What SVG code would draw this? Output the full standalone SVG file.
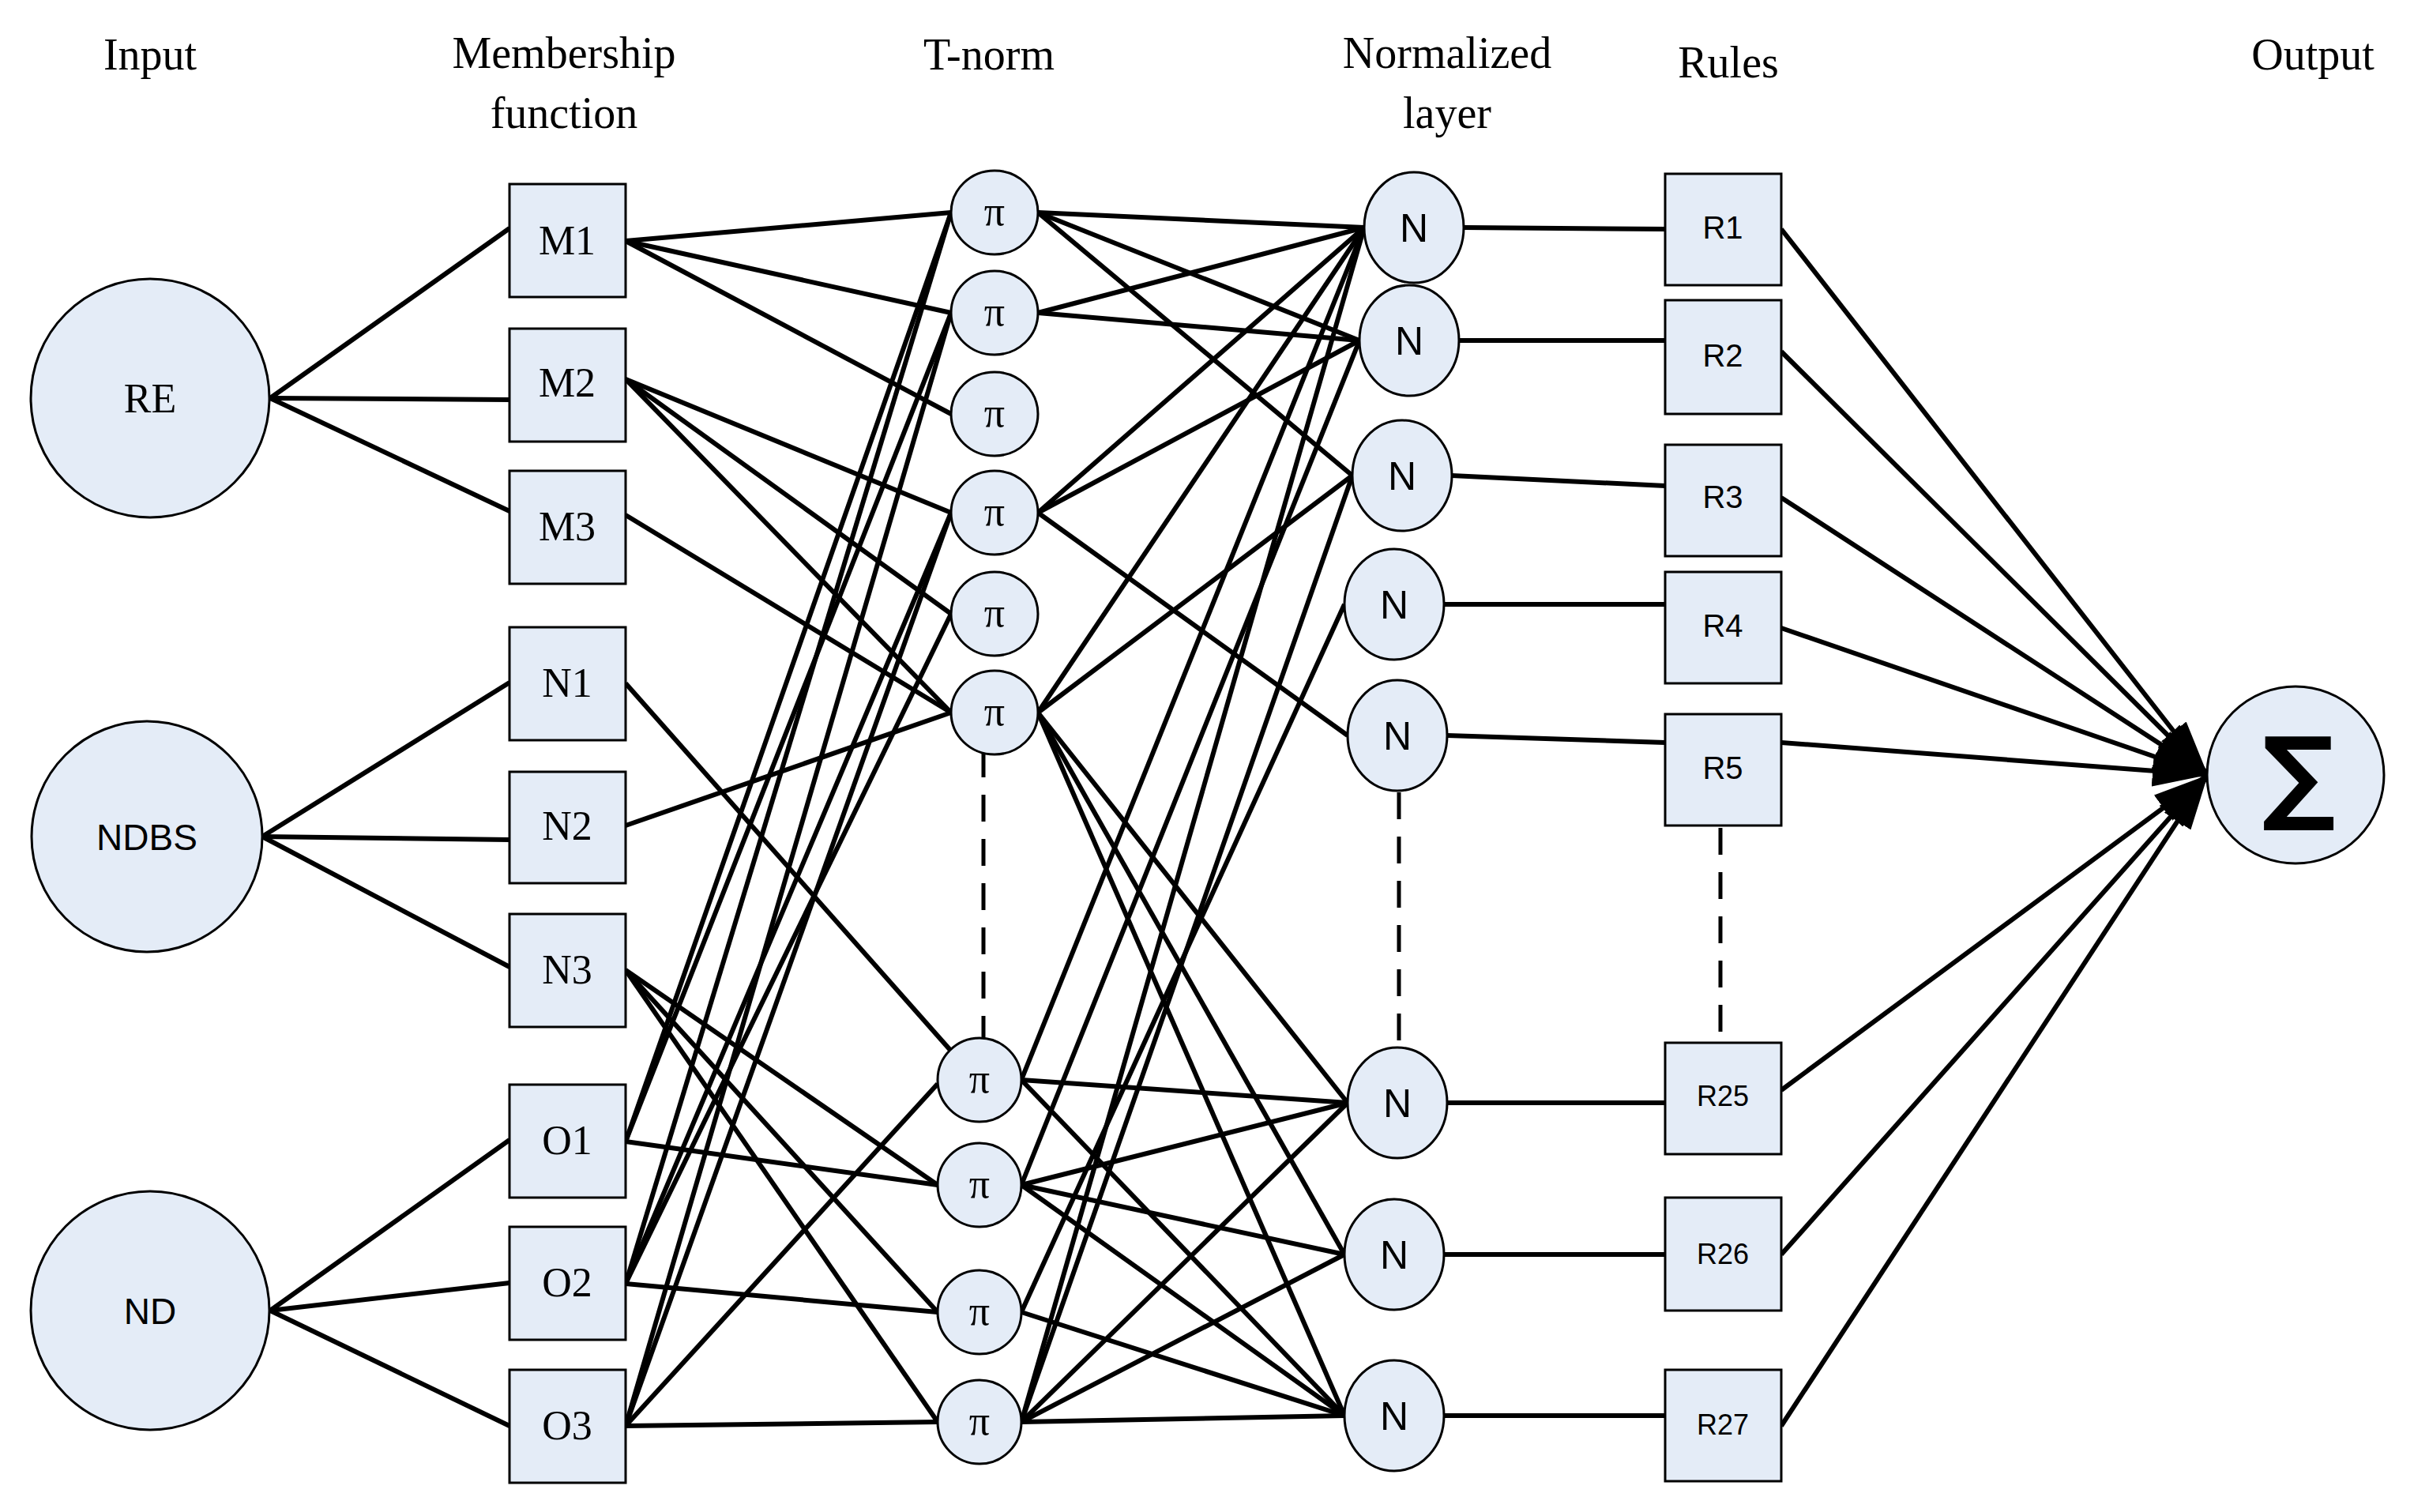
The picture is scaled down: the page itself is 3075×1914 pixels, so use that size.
<svg xmlns="http://www.w3.org/2000/svg" width="3075" height="1914" viewBox="0 0 3075 1914">
<style>
.n{fill:#e4ecf7;stroke:#000;stroke-width:3}
.c line{stroke:#000;stroke-width:6}
.d{stroke:#000;stroke-width:5;stroke-dasharray:34 22;fill:none}
.h{font-family:"Liberation Serif",serif;font-size:56px;text-anchor:middle}
.s{font-family:"Liberation Serif",serif;font-size:52px;text-anchor:middle}
.a{font-family:"Liberation Sans",sans-serif;text-anchor:middle}
</style>
<defs>
<marker id="ar" markerUnits="userSpaceOnUse" markerWidth="70" markerHeight="40" refX="70" refY="20" orient="auto"><path d="M0,0 L70,20 L0,40 z" fill="#000"/></marker>
</defs>
<rect width="3075" height="1914" fill="#fff"/>
<g id="headers">
<text class="h" x="190" y="88">Input</text>
<text class="h" x="714" y="86">Membership</text>
<text class="h" x="714" y="162">function</text>
<text class="h" x="1252" y="88">T-norm</text>
<text class="h" x="1832" y="86">Normalized</text>
<text class="h" x="1832" y="162">layer</text>
<text class="h" x="2188" y="98">Rules</text>
<text class="h" x="2928" y="88">Output</text>
</g>
<g class="c" id="connectors">
<line x1="342" y1="504" x2="645" y2="289"/><line x1="342" y1="504" x2="645" y2="506"/><line x1="342" y1="504" x2="645" y2="647"/>
<line x1="332" y1="1059" x2="645" y2="864"/><line x1="332" y1="1059" x2="645" y2="1063"/><line x1="332" y1="1059" x2="645" y2="1224"/>
<line x1="342" y1="1659" x2="645" y2="1443"/><line x1="342" y1="1659" x2="645" y2="1624"/><line x1="342" y1="1659" x2="645" y2="1805"/>
<line x1="792" y1="305" x2="1204" y2="269"/><line x1="792" y1="305" x2="1204" y2="396"/><line x1="792" y1="305" x2="1204" y2="524"/>
<line x1="792" y1="480" x2="1204" y2="649"/><line x1="792" y1="480" x2="1204" y2="777"/><line x1="792" y1="480" x2="1204" y2="902"/>
<line x1="792" y1="652" x2="1204" y2="902"/>
<line x1="792" y1="865" x2="1232" y2="1362"/>
<line x1="792" y1="1045" x2="1204" y2="902"/>
<line x1="792" y1="1228" x2="1187" y2="1500"/><line x1="792" y1="1228" x2="1187" y2="1661"/><line x1="792" y1="1228" x2="1187" y2="1800"/>
<line x1="792" y1="1445" x2="1187" y2="1500"/><line x1="792" y1="1445" x2="1204" y2="269"/><line x1="792" y1="1445" x2="1204" y2="396"/>
<line x1="792" y1="1625" x2="1187" y2="1661"/><line x1="792" y1="1625" x2="1204" y2="649"/><line x1="792" y1="1625" x2="1204" y2="777"/><line x1="792" y1="1625" x2="1204" y2="269"/>
<line x1="792" y1="1805" x2="1187" y2="1800"/><line x1="792" y1="1805" x2="1187" y2="1372"/><line x1="792" y1="1805" x2="1204" y2="396"/><line x1="792" y1="1805" x2="1204" y2="649"/>
<line x1="1314" y1="269" x2="1727" y2="288"/><line x1="1314" y1="269" x2="1721" y2="431"/><line x1="1314" y1="269" x2="1712" y2="602"/>
<line x1="1314" y1="396" x2="1727" y2="288"/><line x1="1314" y1="396" x2="1721" y2="431"/>
<line x1="1314" y1="649" x2="1727" y2="288"/><line x1="1314" y1="649" x2="1721" y2="431"/><line x1="1314" y1="649" x2="1706" y2="931"/>
<line x1="1314" y1="902" x2="1727" y2="288"/><line x1="1314" y1="902" x2="1712" y2="602"/><line x1="1314" y1="902" x2="1706" y2="1396"/><line x1="1314" y1="902" x2="1702" y2="1588"/><line x1="1314" y1="902" x2="1702" y2="1792"/>
<line x1="1293" y1="1367" x2="1706" y2="1396"/><line x1="1293" y1="1367" x2="1702" y2="1792"/><line x1="1293" y1="1367" x2="1727" y2="288"/>
<line x1="1293" y1="1500" x2="1706" y2="1396"/><line x1="1293" y1="1500" x2="1702" y2="1588"/><line x1="1293" y1="1500" x2="1702" y2="1792"/><line x1="1293" y1="1500" x2="1721" y2="431"/>
<line x1="1293" y1="1661" x2="1702" y2="1792"/><line x1="1293" y1="1661" x2="1702" y2="765"/>
<line x1="1293" y1="1800" x2="1706" y2="1396"/><line x1="1293" y1="1800" x2="1702" y2="1588"/><line x1="1293" y1="1800" x2="1702" y2="1792"/><line x1="1293" y1="1800" x2="1712" y2="602"/><line x1="1293" y1="1800" x2="1727" y2="288"/>
<line x1="1853" y1="288" x2="2108" y2="290"/><line x1="1847" y1="431" x2="2108" y2="431"/><line x1="1838" y1="602" x2="2108" y2="615"/><line x1="1828" y1="765" x2="2108" y2="765"/><line x1="1832" y1="931" x2="2108" y2="940"/><line x1="1832" y1="1396" x2="2108" y2="1396"/><line x1="1828" y1="1588" x2="2108" y2="1588"/><line x1="1828" y1="1792" x2="2108" y2="1792"/>
<line x1="2255" y1="290" x2="2795" y2="981" marker-end="url(#ar)"/><line x1="2255" y1="445" x2="2795" y2="981" marker-end="url(#ar)"/><line x1="2255" y1="630" x2="2795" y2="981" marker-end="url(#ar)"/><line x1="2255" y1="795" x2="2795" y2="981" marker-end="url(#ar)"/><line x1="2255" y1="940" x2="2795" y2="981" marker-end="url(#ar)"/><line x1="2255" y1="1380" x2="2795" y2="981" marker-end="url(#ar)"/><line x1="2255" y1="1588" x2="2795" y2="981" marker-end="url(#ar)"/><line x1="2255" y1="1805" x2="2795" y2="981" marker-end="url(#ar)"/>
<path class="d" d="M1245,950 V1315 M1771,1003 V1326 M2178,1048 V1320"/>
</g>
<g id="inputs">
<g id="RE"><circle class="n" cx="190" cy="504" r="151"/><text class="s" x="190" y="522">RE</text></g>
<g id="NDBS"><circle class="n" cx="186" cy="1059" r="146"/><text class="a" font-size="46" x="186" y="1076">NDBS</text></g>
<g id="ND"><circle class="n" cx="190" cy="1659" r="151"/><text class="a" font-size="46" x="190" y="1676">ND</text></g>
</g>
<g id="membership">
<g id="M1"><rect class="n" x="645" y="233" width="147" height="143"/><text class="s" x="718" y="322">M1</text></g>
<g id="M2"><rect class="n" x="645" y="416" width="147" height="143"/><text class="s" x="718" y="502">M2</text></g>
<g id="M3"><rect class="n" x="645" y="596" width="147" height="143"/><text class="s" x="718" y="684">M3</text></g>
<g id="N1b"><rect class="n" x="645" y="794" width="147" height="143"/><text class="s" x="718" y="882">N1</text></g>
<g id="N2b"><rect class="n" x="645" y="977" width="147" height="141"/><text class="s" x="718" y="1063">N2</text></g>
<g id="N3b"><rect class="n" x="645" y="1157" width="147" height="143"/><text class="s" x="718" y="1245">N3</text></g>
<g id="O1"><rect class="n" x="645" y="1373" width="147" height="143"/><text class="s" x="718" y="1461">O1</text></g>
<g id="O2"><rect class="n" x="645" y="1553" width="147" height="143"/><text class="s" x="718" y="1641">O2</text></g>
<g id="O3"><rect class="n" x="645" y="1734" width="147" height="143"/><text class="s" x="718" y="1822">O3</text></g>
</g>
<g id="tnorm">
<g id="P1"><ellipse class="n" cx="1259" cy="269" rx="55" ry="53"/><text class="s" x="1259" y="285">π</text></g>
<g id="P2"><ellipse class="n" cx="1259" cy="396" rx="55" ry="53"/><text class="s" x="1259" y="412">π</text></g>
<g id="P3"><ellipse class="n" cx="1259" cy="524" rx="55" ry="53"/><text class="s" x="1259" y="540">π</text></g>
<g id="P4"><ellipse class="n" cx="1259" cy="649" rx="55" ry="53"/><text class="s" x="1259" y="665">π</text></g>
<g id="P5"><ellipse class="n" cx="1259" cy="777" rx="55" ry="53"/><text class="s" x="1259" y="793">π</text></g>
<g id="P6"><ellipse class="n" cx="1259" cy="902" rx="55" ry="53"/><text class="s" x="1259" y="918">π</text></g>
<g id="P7"><ellipse class="n" cx="1240" cy="1367" rx="53" ry="53"/><text class="s" x="1240" y="1383">π</text></g>
<g id="P8"><ellipse class="n" cx="1240" cy="1500" rx="53" ry="53"/><text class="s" x="1240" y="1516">π</text></g>
<g id="P9"><ellipse class="n" cx="1240" cy="1661" rx="53" ry="53"/><text class="s" x="1240" y="1677">π</text></g>
<g id="P10"><ellipse class="n" cx="1240" cy="1800" rx="53" ry="53"/><text class="s" x="1240" y="1816">π</text></g>
</g>
<g id="normalized" font-size="50">
<g id="Nn1"><ellipse class="n" cx="1790" cy="288" rx="63" ry="70"/><text class="a" x="1790" y="306">N</text></g>
<g id="Nn2"><ellipse class="n" cx="1784" cy="431" rx="63" ry="70"/><text class="a" x="1784" y="449">N</text></g>
<g id="Nn3"><ellipse class="n" cx="1775" cy="602" rx="63" ry="70"/><text class="a" x="1775" y="620">N</text></g>
<g id="Nn4"><ellipse class="n" cx="1765" cy="765" rx="63" ry="70"/><text class="a" x="1765" y="783">N</text></g>
<g id="Nn5"><ellipse class="n" cx="1769" cy="931" rx="63" ry="70"/><text class="a" x="1769" y="949">N</text></g>
<g id="Nn6"><ellipse class="n" cx="1769" cy="1396" rx="63" ry="70"/><text class="a" x="1769" y="1414">N</text></g>
<g id="Nn7"><ellipse class="n" cx="1765" cy="1588" rx="63" ry="70"/><text class="a" x="1765" y="1606">N</text></g>
<g id="Nn8"><ellipse class="n" cx="1765" cy="1792" rx="63" ry="70"/><text class="a" x="1765" y="1810">N</text></g>
</g>
<g id="rules" font-size="40">
<g id="R1"><rect class="n" x="2108" y="220" width="147" height="141"/><text class="a" x="2181" y="302">R1</text></g>
<g id="R2"><rect class="n" x="2108" y="380" width="147" height="144"/><text class="a" x="2181" y="464">R2</text></g>
<g id="R3"><rect class="n" x="2108" y="563" width="147" height="141"/><text class="a" x="2181" y="643">R3</text></g>
<g id="R4"><rect class="n" x="2108" y="724" width="147" height="141"/><text class="a" x="2181" y="806">R4</text></g>
<g id="R5"><rect class="n" x="2108" y="904" width="147" height="141"/><text class="a" x="2181" y="986">R5</text></g>
<g id="R25"><rect class="n" x="2108" y="1320" width="147" height="141"/><text class="a" x="2181" y="1400" font-size="36">R25</text></g>
<g id="R26"><rect class="n" x="2108" y="1516" width="147" height="143"/><text class="a" x="2181" y="1600" font-size="36">R26</text></g>
<g id="R27"><rect class="n" x="2108" y="1734" width="147" height="141"/><text class="a" x="2181" y="1816" font-size="36">R27</text></g>
</g>
<g id="sum"><circle class="n" cx="2906" cy="981" r="112"/><text x="2910" y="1026" font-family="DejaVu Sans,sans-serif" font-size="130" font-weight="bold" text-anchor="middle">∑</text></g>
</svg>
